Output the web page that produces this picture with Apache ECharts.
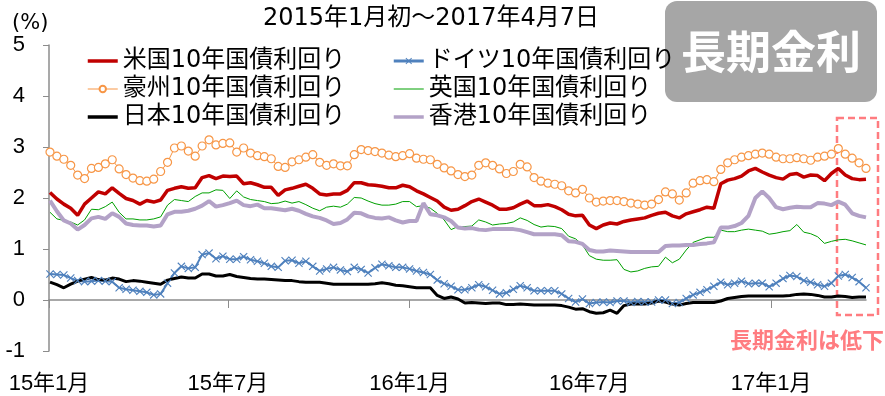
<!DOCTYPE html>
<html><head><meta charset="utf-8">
<script src="https://cdn.jsdelivr.net/npm/echarts@6/dist/echarts.min.js"></script>
<style>html,body{margin:0;padding:0;background:#fff}#c{width:885px;height:396px}</style>
</head><body><div id="c"></div>
<script>
// ---- data (weekly samples, every Friday from 2015-01-02 to 2017-04-07) ----
const firstSample = '2015-01-02';
const sampleStepDays = 7;
const axisStart = '2015-01-01';
const axisEnd = '2017-04-07';
const tickDates = ['2015-01-01','2015-07-01','2016-01-01','2016-07-01','2017-01-01'];
const tickLabels = ['15年1月','15年7月','16年1月','16年7月','17年1月'];
const seriesNames = ['米国10年国債利回り','ドイツ10年国債利回り','豪州10年国債利回り','英国10年国債利回り','日本10年国債利回り','香港10年国債利回り'];

const us = [2.11,1.98,1.88,1.80,1.66,1.88,2.00,2.12,2.08,2.20,
2.09,1.99,1.95,1.88,1.95,1.92,1.96,2.15,2.19,2.22,
2.19,2.20,2.40,2.44,2.38,2.43,2.42,2.43,2.28,2.30,
2.26,2.21,2.21,2.05,2.16,2.19,2.23,2.27,2.19,2.08,
2.06,2.08,2.08,2.15,2.30,2.30,2.26,2.25,2.23,2.20,
2.20,2.25,2.22,2.14,2.08,2.01,1.94,1.82,1.76,1.78,
1.85,1.93,1.98,1.92,1.86,1.78,1.78,1.81,1.88,1.94,
1.85,1.85,1.87,1.83,1.77,1.68,1.65,1.66,1.47,1.40,
1.47,1.51,1.49,1.54,1.57,1.59,1.61,1.66,1.70,1.72,
1.65,1.61,1.69,1.73,1.77,1.82,1.80,2.28,2.35,2.38,
2.43,2.53,2.58,2.51,2.45,2.40,2.37,2.46,2.48,2.41,
2.45,2.44,2.34,2.48,2.58,2.45,2.38,2.36,2.37];

const germany = [0.51,0.50,0.49,0.43,0.38,0.36,0.37,0.38,0.37,0.36,
0.24,0.21,0.19,0.17,0.15,0.10,0.12,0.33,0.53,0.66,
0.62,0.64,0.89,0.92,0.81,0.86,0.80,0.80,0.85,0.79,
0.76,0.72,0.66,0.64,0.77,0.78,0.72,0.76,0.66,0.57,
0.61,0.64,0.59,0.56,0.64,0.60,0.53,0.63,0.70,0.67,
0.64,0.64,0.61,0.57,0.54,0.50,0.39,0.32,0.27,0.20,
0.20,0.24,0.30,0.26,0.19,0.12,0.14,0.21,0.28,0.24,
0.18,0.18,0.18,0.18,0.12,0.03,-0.04,0.02,-0.07,-0.05,
-0.04,-0.05,-0.02,-0.02,-0.05,-0.03,-0.04,-0.04,0.00,0.00,
-0.07,-0.05,0.03,0.10,0.15,0.20,0.27,0.35,0.30,0.33,
0.37,0.32,0.33,0.33,0.26,0.33,0.42,0.48,0.46,0.38,
0.35,0.30,0.27,0.33,0.47,0.50,0.44,0.36,0.24];

const australia = [2.90,2.82,2.76,2.64,2.45,2.38,2.58,2.60,2.67,2.75,
2.57,2.46,2.39,2.34,2.33,2.37,2.52,2.70,2.98,3.02,
2.92,2.82,3.02,3.14,3.04,3.07,3.08,2.90,2.98,2.88,
2.83,2.81,2.77,2.62,2.60,2.71,2.75,2.80,2.85,2.70,
2.64,2.67,2.63,2.63,2.85,2.95,2.93,2.91,2.88,2.84,
2.81,2.83,2.87,2.78,2.76,2.75,2.66,2.59,2.53,2.46,
2.42,2.45,2.64,2.69,2.64,2.57,2.48,2.52,2.66,2.61,
2.40,2.33,2.29,2.27,2.24,2.14,2.10,2.17,2.00,1.92,
1.94,1.95,1.95,1.93,1.90,1.88,1.86,1.88,1.97,2.12,
2.08,1.96,2.10,2.29,2.34,2.36,2.32,2.56,2.69,2.75,
2.80,2.83,2.86,2.88,2.86,2.80,2.77,2.77,2.79,2.77,
2.74,2.80,2.82,2.86,2.97,2.86,2.78,2.69,2.58];

const uk = [1.72,1.59,1.56,1.53,1.47,1.57,1.78,1.77,1.83,1.92,
1.72,1.59,1.59,1.57,1.57,1.59,1.63,1.86,1.97,1.95,
1.93,2.03,2.10,2.10,2.16,2.15,1.99,2.14,2.02,1.97,
1.95,1.93,1.89,1.90,1.94,1.90,1.93,1.87,1.80,1.75,
1.82,1.84,1.82,1.88,2.01,2.00,1.94,1.89,1.86,1.86,
1.88,1.93,1.93,1.83,1.85,1.80,1.70,1.57,1.38,1.44,
1.44,1.45,1.57,1.53,1.47,1.49,1.50,1.53,1.61,1.56,
1.48,1.43,1.45,1.44,1.40,1.25,1.20,1.08,0.87,0.80,
0.78,0.78,0.79,0.60,0.55,0.57,0.62,0.65,0.66,0.84,
0.73,0.80,0.98,1.13,1.18,1.23,1.23,1.37,1.34,1.34,
1.37,1.39,1.37,1.35,1.29,1.31,1.34,1.36,1.48,1.33,
1.30,1.24,1.11,1.15,1.18,1.19,1.16,1.12,1.08];

const japan = [0.35,0.30,0.24,0.31,0.37,0.41,0.44,0.40,0.39,0.43,
0.41,0.36,0.38,0.37,0.35,0.33,0.31,0.39,0.42,0.45,
0.43,0.43,0.51,0.51,0.47,0.47,0.50,0.46,0.44,0.42,
0.41,0.41,0.40,0.39,0.38,0.38,0.36,0.35,0.35,0.35,
0.33,0.31,0.31,0.31,0.31,0.31,0.31,0.32,0.34,0.32,
0.29,0.28,0.26,0.24,0.24,0.24,0.09,0.03,0.06,0.02,
-0.06,-0.05,-0.06,-0.07,-0.06,-0.06,-0.09,-0.09,-0.08,-0.09,
-0.10,-0.10,-0.10,-0.10,-0.11,-0.14,-0.18,-0.17,-0.23,-0.26,
-0.25,-0.20,-0.26,-0.11,-0.08,-0.08,-0.08,-0.06,-0.02,-0.04,
-0.08,-0.10,-0.07,-0.05,-0.05,-0.05,-0.05,-0.02,0.03,0.05,
0.07,0.08,0.08,0.08,0.08,0.08,0.08,0.09,0.11,0.12,
0.11,0.09,0.06,0.06,0.08,0.07,0.05,0.06,0.06];

const hongkong = [1.95,1.74,1.56,1.50,1.38,1.47,1.60,1.63,1.59,1.70,
1.63,1.50,1.47,1.46,1.46,1.44,1.46,1.68,1.73,1.73,
1.75,1.79,1.85,1.94,1.83,1.86,1.90,1.95,1.86,1.84,
1.87,1.80,1.80,1.78,1.76,1.79,1.75,1.69,1.64,1.61,
1.56,1.49,1.51,1.58,1.71,1.70,1.64,1.61,1.60,1.62,
1.56,1.52,1.55,1.55,1.90,1.68,1.66,1.62,1.55,1.42,
1.40,1.41,1.38,1.37,1.39,1.39,1.39,1.39,1.37,1.33,
1.29,1.29,1.29,1.29,1.27,1.15,1.14,1.10,0.98,0.95,
0.95,0.97,0.96,0.95,0.94,0.94,0.94,0.94,0.94,1.06,
1.07,1.07,1.08,1.08,1.10,1.11,1.13,1.42,1.42,1.45,
1.51,1.65,2.00,2.13,2.00,1.82,1.78,1.81,1.83,1.82,
1.82,1.90,1.89,1.86,1.93,1.87,1.70,1.65,1.62];

// ---- helpers ----
function dayOf(s){const p=s.split('-').map(Number);const a=axisStart.split('-').map(Number);
  return Math.round((Date.UTC(p[0],p[1]-1,p[2])-Date.UTC(a[0],a[1]-1,a[2]))/86400000);}
const day0 = dayOf(firstSample);
const sampleDays = us.map((_, i) => day0 + i * sampleStepDays);
const pair = arr => arr.map((v, i) => [sampleDays[i], v]);
const tickDays = tickDates.map(dayOf);
const labelMap = {}; tickDays.forEach((d, i) => labelMap[d] = tickLabels[i]);

const TXT = "'DejaVu Sans','Noto Sans CJK JP',sans-serif";
const AX = "'Liberation Sans','Noto Sans CJK JP',sans-serif";
const crossPath = 'path://M0,1L1,0L5,4L9,0L10,1L6,5L10,9L9,10L5,6L1,10L0,9L4,5Z';
const noSym = (name, w) => ({name: name, itemStyle: {opacity: 0}, lineStyle: {width: w}});

const chart = echarts.init(document.getElementById('c'), null, {renderer:'canvas'});
chart.setOption({
  animation: false,
  backgroundColor: '#fff',
  title: {text: '2015年1月初～2017年4月7日', left: 258, top: 1,
    textStyle: {fontFamily: TXT, fontSize: 24, fontWeight: 'normal', color: '#000', lineHeight: 26}},
  grid: {left: 49, right: 19, top: 45, bottom: 45, containLabel: false, outerBoundsMode: 'none'},
  legend: [
    {orient: 'vertical', left: 81, top: 44, itemWidth: 30, itemHeight: 8, itemGap: 4,
     data: [noSym(seriesNames[0], 3.5), {name: seriesNames[2], lineStyle: {width: 1}}, noSym(seriesNames[4], 3.5)],
     textStyle: {fontFamily: TXT, fontSize: 24, color: '#000', lineHeight: 24}},
    {orient: 'vertical', left: 387, top: 44, itemWidth: 30, itemHeight: 8, itemGap: 4,
     data: [{name: seriesNames[1], lineStyle: {width: 3}}, noSym(seriesNames[3], 1), noSym(seriesNames[5], 3.5)],
     textStyle: {fontFamily: TXT, fontSize: 24, color: '#000', lineHeight: 24}}
  ],
  xAxis: [{
    type: 'value', min: dayOf(axisStart), max: dayOf(axisEnd),
    splitLine: {show: false},
    axisLine: {onZero: true, lineStyle: {color: '#8c8c8c', width: 1.5}},
    axisTick: {show: true, inside: false, length: 8, customValues: tickDays, lineStyle: {color: '#8c8c8c', width: 1}},
    axisLabel: {show: false}
  }, {
    type: 'value', position: 'bottom', min: dayOf(axisStart), max: dayOf(axisEnd),
    splitLine: {show: false},
    axisLine: {show: false, onZero: false},
    axisTick: {show: false},
    axisLabel: {customValues: tickDays, margin: 22, formatter: v => labelMap[v] || '',
      fontFamily: AX, fontSize: 22, color: '#000'}
  }],
  yAxis: {
    type: 'value', min: -1, max: 5, interval: 1,
    splitLine: {show: false},
    axisLine: {show: true, lineStyle: {color: '#8c8c8c', width: 1.5}},
    axisTick: {show: true, inside: false, length: 6, lineStyle: {color: '#8c8c8c'}},
    axisLabel: {margin: 24, fontFamily: AX, fontSize: 22, color: '#000'}
  },
  series: [
    {name: seriesNames[0], type: 'line', data: pair(us), symbol: 'none',
     lineStyle: {color: '#c00000', width: 3.5}, itemStyle: {color: '#c00000'}},
    {name: seriesNames[1], type: 'line', data: pair(germany), symbol: crossPath, symbolSize: 8, showSymbol: true,
     lineStyle: {color: '#4f81bd', width: 2}, itemStyle: {color: '#4f81bd'}},
    {name: seriesNames[2], type: 'line', data: pair(australia), symbol: 'circle', symbolSize: 8, showSymbol: true,
     lineStyle: {color: '#f79646', width: 1}, itemStyle: {color: '#ffffff', borderColor: '#f79646', borderWidth: 1.2}},
    {name: seriesNames[3], type: 'line', data: pair(uk), symbol: 'none',
     lineStyle: {color: '#00a000', width: 1}, itemStyle: {color: '#00a000'}},
    {name: seriesNames[4], type: 'line', data: pair(japan), symbol: 'none',
     lineStyle: {color: '#000000', width: 3}, itemStyle: {color: '#000000'}},
    {name: seriesNames[5], type: 'line', data: pair(hongkong), symbol: 'none',
     lineStyle: {color: '#b3a2c7', width: 4}, itemStyle: {color: '#b3a2c7'}}
  ],
  graphic: [
    {type: 'text', left: 12, top: 13, style: {text: '(%)', fontFamily: TXT, fontSize: 21, fill: '#000'}},
    {type: 'rect', shape: {x: 665, y: 1, width: 212, height: 101, r: 12}, style: {fill: '#a6a6a6'}},
    {type: 'text', x: 771, y: 52, style: {text: '長期金利', fontFamily: "'Noto Sans CJK JP',sans-serif", fontWeight: 'bold',
      fontSize: 45, fill: '#fff', align: 'center', verticalAlign: 'middle'}},
    {type: 'rect', shape: {x: 837, y: 118, width: 41, height: 197}, style: {fill: 'none', stroke: '#ff7c80', lineWidth: 2.5, lineDash: [7, 4]}},
    {type: 'text', x: 807, y: 340, style: {text: '長期金利は低下', fontFamily: "'Noto Sans CJK JP',sans-serif", fontWeight: 'bold',
      fontSize: 22, fill: '#ff7c80', align: 'center', verticalAlign: 'middle'}}
  ]
});
</script></body></html>
